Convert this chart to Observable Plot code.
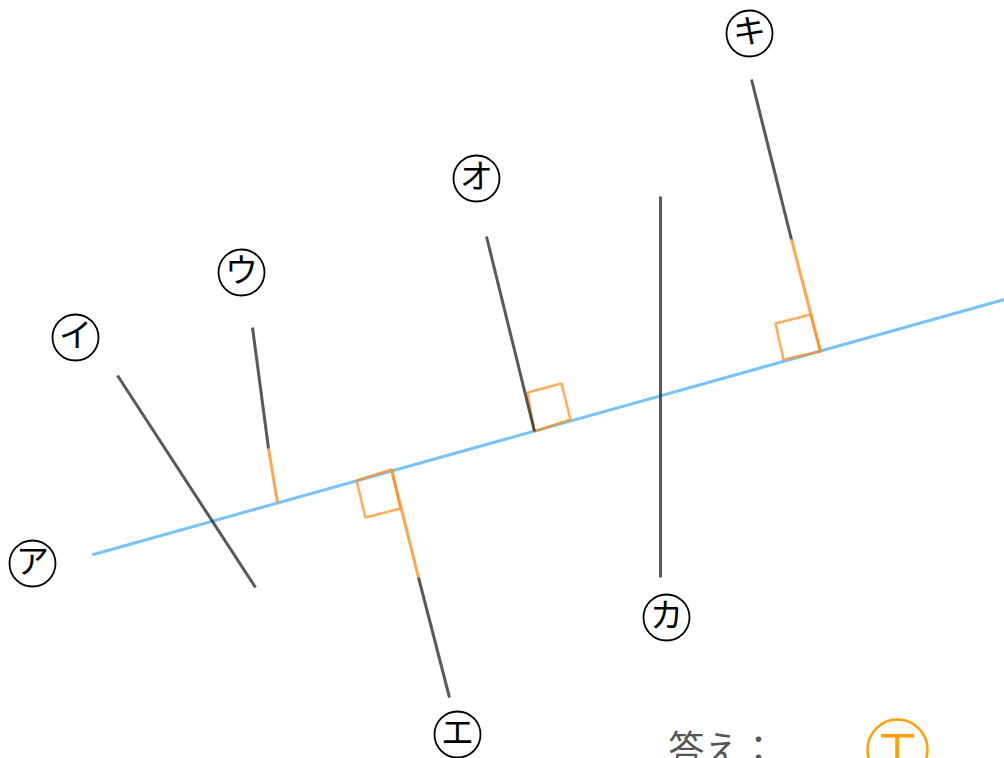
<!DOCTYPE html>
<html>
<head>
<meta charset="utf-8">
<script src="https://cdn.jsdelivr.net/npm/d3@7"></script>
<script src="https://cdn.jsdelivr.net/npm/@observablehq/plot@0.6"></script>
<style>
  html, body { margin: 0; padding: 0; background: #fff; overflow: hidden; }
  #chart svg { display: block; }
</style>
</head>
<body>
<div id="chart"></div>
<script>
// Line ア (the reference line), in figure coordinates
const lineA = [{x: 93, y: 554}, {x: 1004, y: 299}];

// Candidate segments split into black part and orange (distance) part
const blackNames = ["イ", "ウ", "エ", "オ", "カ", "キ"];
const blackX1 = [117, 252, 418, 486, 660, 751];
const blackY1 = [375, 327, 577, 236, 196, 79];
const blackX2 = [255, 268, 449, 534, 660, 791];
const blackY2 = [587, 448, 697, 431, 577, 239];

const orangeNames = ["ウ", "エ", "キ"];
const orangeX1 = [268, 391, 791];
const orangeY1 = [448, 469, 239];
const orangeX2 = [277, 418, 820];
const orangeY2 = [502, 577, 351];

// Right-angle marks (corners)
const squareNames = ["エ", "オ", "キ"];
const squareX = [[391, 400, 365, 356], [534, 527, 561, 570], [820, 810, 775, 783]];
const squareY = [[469, 508, 517, 480], [431, 392, 383, 419], [351, 314, 323, 359]];

// Circled labels
const labels = ["ア", "イ", "ウ", "エ", "オ", "カ", "キ"];
const labelX = [32, 75, 241, 457, 476, 666, 749];
const labelY = [563, 337, 272, 734, 178, 617, 33];

// Answer
const answerText = "答え：";
const answerLabel = "エ";

const blackSegs = blackNames.map((n, i) => ({n, x1: blackX1[i], y1: blackY1[i], x2: blackX2[i], y2: blackY2[i]}));
const orangeSegs = orangeNames.map((n, i) => ({n, x1: orangeX1[i], y1: orangeY1[i], x2: orangeX2[i], y2: orangeY2[i]}));
const squarePts = squareNames.flatMap((n, i) =>
  [0, 1, 2, 3, 0].map(k => ({n, x: squareX[i][k], y: squareY[i][k]})));
const labelData = labels.map((t, i) => ({t, x: labelX[i], y: labelY[i]}));

const font = "'Noto Sans CJK JP', 'Noto Sans', sans-serif";

const chart = Plot.plot({
  width: 1004,
  height: 758,
  margin: 0,
  x: {domain: [0, 1004], axis: null},
  y: {domain: [758, 0], axis: null},
  style: {background: "#fff", fontFamily: font},
  marks: [
    Plot.line(lineA, {x: "x", y: "y", stroke: "#78c2f7", strokeWidth: 3}),
    Plot.line(squarePts, {x: "x", y: "y", z: "n", stroke: "#ff9020", strokeOpacity: 0.75, strokeWidth: 2.5, strokeLinejoin: "miter"}),
    Plot.link(orangeSegs, {x1: "x1", y1: "y1", x2: "x2", y2: "y2", stroke: "#ff9020", strokeOpacity: 0.8, strokeWidth: 3}),
    Plot.link(blackSegs, {x1: "x1", y1: "y1", x2: "x2", y2: "y2", stroke: "#222", strokeOpacity: 0.75, strokeWidth: 3}),
    Plot.dot(labelData, {x: "x", y: "y", r: 23, stroke: "#000", strokeWidth: 1.8, fill: "#fff"}),
    Plot.text(labelData, {x: "x", y: "y", dy: -1, text: "t", fontSize: 33, fill: "#000", fontFamily: font}),
    Plot.text([answerText], {x: 668, y: 750, text: d => d, textAnchor: "start", fontSize: 36, fill: "#555", fontFamily: font}),
    Plot.dot([answerLabel], {x: 897, y: 749, r: 30, stroke: "#ffa000", strokeWidth: 2.5, fill: "#fff"}),
    Plot.text([answerLabel], {x: 897, y: 749, text: d => d, fontSize: 46, fill: "#ffa000", fontFamily: font})
  ]
});
document.getElementById("chart").appendChild(chart);
</script>
</body>
</html>
